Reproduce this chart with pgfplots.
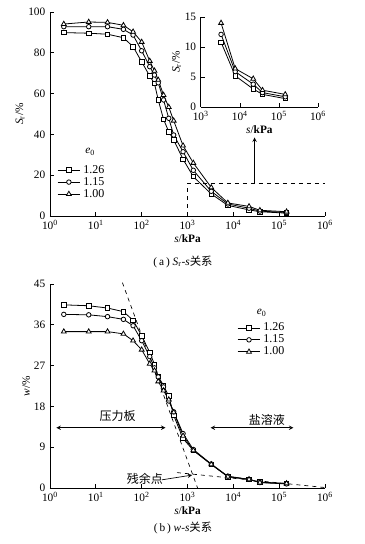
\documentclass[border=0pt]{standalone}
\usepackage{pgfplots}
\pgfplotsset{compat=1.18}
\usepackage{fontspec}
\setmainfont{Liberation Serif}
\newfontfamily\cjk{Noto Sans CJK SC}
\pgfplotstableread{
s      sq    ci    tr
2      89.9  92.8  94.1
7      89.6  92.8  95.1
18     89.1  92.8  94.9
40     87.4  91.5  93.5
65     83.0  88.7  90.3
100    75.6  81.0  85.3
150    68.6  73.2  76.0
190    65.0  69.1  71.2
230    56.9  65.3  66.7
300    47.4  56.9  59.3
390    41.3  47.9  53.4
500    37.3  39.7  46.7
800    27.8  31.5  34.5
1340   19.3  22.4  26.0
3300   10.8  12.1  14.0
7600   5.2   5.9   6.4
22000  3.0   3.8   4.7
38000  2.1   2.4   2.8
145000 1.4   1.7   2.1
}\srdata
\pgfplotstableread{
s      sq    ci    tr
2      40.4  38.3  34.5
7      40.2  38.2  34.5
18     39.7  37.8  34.5
40     38.9  37.2  34.0
65     37.0  35.8  32.5
100    33.6  32.5  30.5
150    29.9  29.0  27.4
190    27.3  26.5  25.9
230    24.6  24.5  23.5
300    22.6  22.3  21.5
390    20.3  19.2  19.5
500    16.0  16.8  16.7
800    10.9  12.0  11.5
1340   8.3   8.5   8.3
3300   5.2   5.3   5.2
7600   2.5   2.6   2.5
22000  1.9   1.9   1.9
38000  1.3   1.2   1.2
145000 1.0   0.9   1.0
}\wdata
\tikzset{
  sqs/.style={black, line width=0.6pt, mark=square*, mark size=1.7pt, mark options={solid, fill=white}},
  cis/.style={black, line width=0.6pt, mark=*, mark size=1.7pt, mark options={solid, fill=white}},
  trs/.style={black, line width=0.6pt, mark=triangle*, mark size=2.1pt, mark options={solid, fill=white}},
}
\begin{document}
\begin{tikzpicture}[font=\fontsize{8.5}{10}\selectfont]
\path[use as bounding box] (0,0) rectangle (273.75pt,408pt);
% ---------------- top main axis
\begin{axis}[at={(37.5pt,246pt)}, anchor=south west,
  scale only axis, xmode=log,
  axis x line*=bottom, axis y line*=left,
  axis line style={-, line width=0.5pt},
  tick align=inside, tick style={black, line width=0.5pt},
  major tick length=3pt, minor tick length=0pt,
  clip=false,
  xlabel={\textit{s}/\textbf{kPa}}, xlabel style={yshift=3pt},
  width=206.25pt, height=153pt,
  xmin=1, xmax=1e6, ymin=0, ymax=100,
  xtick={1,10,100,1000,10000,100000,1000000},
  xticklabels={10\textsuperscript{0},10\textsuperscript{1},10\textsuperscript{2},10\textsuperscript{3},10\textsuperscript{4},10\textsuperscript{5},10\textsuperscript{6}},
  ytick={0,20,40,60,80,100}, yticklabels={0,20,40,60,80,100},
  ylabel={\textit{S}\textsubscript{r}/\%}, ylabel style={yshift=-4pt},
  legend style={at={(0.02,0.27)}, anchor=north west, draw=none, fill=none,
     row sep=-2.5pt, inner sep=1pt, font=\fontsize{9}{10}\selectfont},
  legend cell align=left,
]
\addplot[sqs] table[x=s,y=sq] {\srdata};
\addlegendentry{1.26}
\addplot[cis] table[x=s,y=ci] {\srdata};
\addlegendentry{1.15}
\addplot[trs] table[x=s,y=tr] {\srdata};
\addlegendentry{1.00}
\node at (axis cs:7.5,31.4) {\textit{e}\textsubscript{0}};
\draw[dashed, line width=0.5pt] (axis cs:1000,0) -- (axis cs:1000,16) -- (axis cs:1e6,16);
\draw[-stealth, line width=0.5pt] (axis cs:29000,16) -- (axis cs:29000,38.5);
\end{axis}
% ---------------- inset
\begin{axis}[at={(150.6pt,327.75pt)}, anchor=south west,
  scale only axis, xmode=log,
  axis x line*=bottom, axis y line*=left,
  axis line style={-, line width=0.5pt},
  tick align=inside, tick style={black, line width=0.5pt},
  major tick length=3pt, minor tick length=0pt,
  clip=false,
  xlabel={\textit{s}/\textbf{kPa}}, xlabel style={yshift=3pt},
  width=87.9pt, height=67.5pt,
  xmin=1000, xmax=1e6, ymin=0, ymax=15,
  xtick={1000,10000,100000,1000000},
  xticklabels={10\textsuperscript{3},10\textsuperscript{4},10\textsuperscript{5},10\textsuperscript{6}},
  ytick={0,5,10,15}, yticklabels={0,5,10,15},
  ylabel={\textit{S}\textsubscript{r}/\%}, ylabel style={yshift=-4pt},
]
\addplot[sqs, skip coords between index={0}{14}] table[x=s,y=sq] {\srdata};
\addplot[cis, skip coords between index={0}{14}] table[x=s,y=ci] {\srdata};
\addplot[trs, skip coords between index={0}{14}] table[x=s,y=tr] {\srdata};
\end{axis}
% ---------------- bottom axis
\begin{axis}[at={(37.5pt,42pt)}, anchor=south west,
  scale only axis, xmode=log,
  axis x line*=bottom, axis y line*=left,
  axis line style={-, line width=0.5pt},
  tick align=inside, tick style={black, line width=0.5pt},
  major tick length=3pt, minor tick length=0pt,
  clip=false,
  xlabel={\textit{s}/\textbf{kPa}}, xlabel style={yshift=3pt},
  width=206.25pt, height=153pt,
  xmin=1, xmax=1e6, ymin=0, ymax=45,
  xtick={1,10,100,1000,10000,100000,1000000},
  xticklabels={10\textsuperscript{0},10\textsuperscript{1},10\textsuperscript{2},10\textsuperscript{3},10\textsuperscript{4},10\textsuperscript{5},10\textsuperscript{6}},
  ytick={0,9,18,27,36,45}, yticklabels={0,9,18,27,36,45},
  ylabel={\textit{w}/\%}, ylabel style={yshift=-4pt},
  legend style={at={(0.675,0.83)}, anchor=north west, draw=none, fill=none,
     row sep=-2.5pt, inner sep=1pt, font=\fontsize{9}{10}\selectfont},
  legend cell align=left,
]
\addplot[sqs] table[x=s,y=sq] {\wdata};
\addlegendentry{1.26}
\addplot[cis] table[x=s,y=ci] {\wdata};
\addlegendentry{1.15}
\addplot[trs] table[x=s,y=tr] {\wdata};
\addlegendentry{1.00}
\node at (axis cs:41700,38.6) {\textit{e}\textsubscript{0}};
\addplot[dashed, line width=0.5pt, mark=none, forget plot] coordinates {(38,45.3) (1660,0)};
\addplot[dashed, line width=0.5pt, mark=none, forget plot] coordinates {(590,3.4) (1e6,0.1)};
\draw[stealth-stealth, line width=0.5pt] (axis cs:1.38,13.3) -- (axis cs:330,13.3);
\draw[stealth-stealth, line width=0.5pt] (axis cs:3200,13.3) -- (axis cs:204000,13.3);
\node[font=\cjk\fontsize{9}{10}\selectfont] at (axis cs:30,16.0) {压力板};
\node[font=\cjk\fontsize{9}{10}\selectfont] at (axis cs:54000,15.1) {盐溶液};
\node[font=\cjk\fontsize{9}{10}\selectfont] at (axis cs:118,2.1) {残余点};
\draw[-stealth, line width=0.5pt] (axis cs:275,1.8) -- (axis cs:1260,2.85);
\end{axis}
\node[font=\fontsize{8.5}{10}\selectfont] at (137.25pt,211.5pt) {(\,a\,)\ \textit{S}\textsubscript{r}-\textit{s}{\cjk 关系}};
\node[font=\fontsize{8.5}{10}\selectfont] at (137.25pt,12pt) {(\,b\,)\ \textit{w}-\textit{s}{\cjk 关系}};
\end{tikzpicture}
\end{document}
